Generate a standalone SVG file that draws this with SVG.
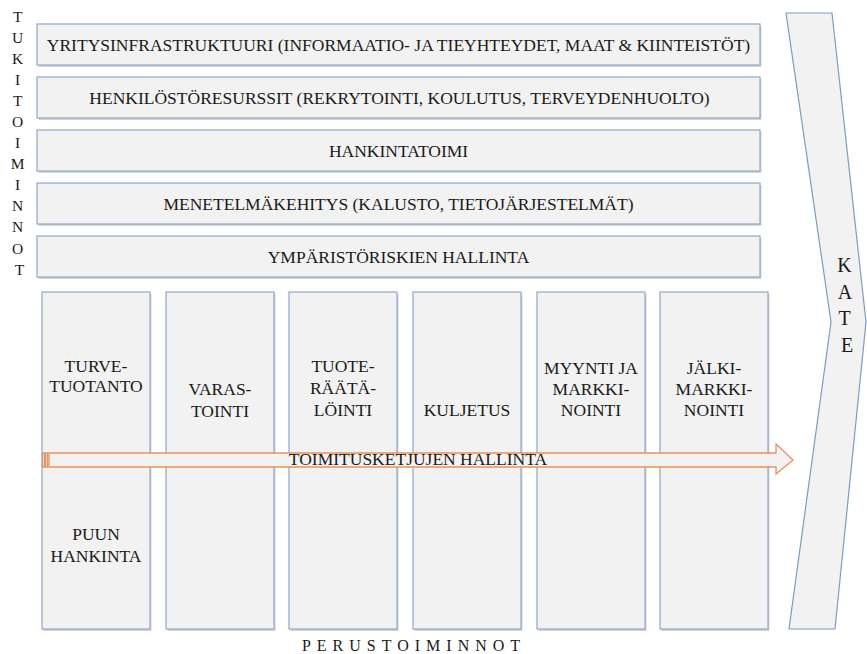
<svg xmlns="http://www.w3.org/2000/svg" width="867" height="654" viewBox="0 0 867 654">
  <style>
    .box { fill: #F2F2F2; stroke: #8DA7CB; stroke-width: 1.2; }
    .shadow { fill: #D4D4D4; }
    .t { font-family: 'Liberation Serif', 'Times New Roman', serif; fill: #1A1A1A; text-anchor: middle; }
    .lbl { font-size: 17.5px; }
    .side { font-size: 15.5px; }
    .kate { font-size: 20px; }
    .spaced { font-size: 16px; letter-spacing: 6px; }
  </style>
  <rect width="867" height="654" fill="#FFFFFF"/>

  <!-- Support activities (vertical label) -->
  <g id="label-tukitoiminnot">
    <text class="t side">
      <tspan x="19.5" y="22">T</tspan>
      <tspan x="19.5" y="43">U</tspan>
      <tspan x="19.5" y="64">K</tspan>
      <tspan x="19.5" y="85">I</tspan>
      <tspan x="19.5" y="106">T</tspan>
      <tspan x="19.5" y="127">O</tspan>
      <tspan x="19.5" y="148">I</tspan>
      <tspan x="19.5" y="169">M</tspan>
      <tspan x="19.5" y="190">I</tspan>
      <tspan x="19.5" y="211">N</tspan>
      <tspan x="19.5" y="232">N</tspan>
      <tspan x="19.5" y="254">O</tspan>
      <tspan x="19.5" y="275">T</tspan>
    </text>
  </g>

  <!-- Margin chevron -->
  <g id="kate">
    <polygon points="786,13 832,13 866,322 835,629 789,629 831,322" fill="#F2F2F2" stroke="#7D9BC4" stroke-width="1.2"/>
    <text class="t kate">
      <tspan x="847" y="272">K</tspan>
      <tspan x="847" y="299">A</tspan>
      <tspan x="847" y="325">T</tspan>
      <tspan x="847" y="352">E</tspan>
    </text>
  </g>

  <!-- Support activity bars -->
  <g id="bar-yritysinfrastruktuuri">
    <rect class="shadow" x="38.5" y="26" width="723" height="41"/>
    <rect class="box" x="37" y="24" width="723" height="41"/>
    <text class="t lbl" x="398.5" y="50.5">YRITYSINFRASTRUKTUURI (INFORMAATIO- JA TIEYHTEYDET, MAAT &amp; KIINTEISTÖT)</text>
  </g>
  <g id="bar-henkilostoresurssit">
    <rect class="shadow" x="38.5" y="79" width="723" height="41"/>
    <rect class="box" x="37" y="77" width="723" height="41"/>
    <text class="t lbl" x="399.5" y="103.5">HENKILÖSTÖRESURSSIT (REKRYTOINTI, KOULUTUS, TERVEYDENHUOLTO)</text>
  </g>
  <g id="bar-hankintatoimi">
    <rect class="shadow" x="38.5" y="132" width="723" height="41"/>
    <rect class="box" x="37" y="130" width="723" height="41"/>
    <text class="t lbl" x="398.5" y="156.5">HANKINTATOIMI</text>
  </g>
  <g id="bar-menetelmakehitys">
    <rect class="shadow" x="38.5" y="185" width="723" height="41"/>
    <rect class="box" x="37" y="183" width="723" height="41"/>
    <text class="t lbl" x="398.5" y="209.5">MENETELMÄKEHITYS (KALUSTO, TIETOJÄRJESTELMÄT)</text>
  </g>
  <g id="bar-ymparistoriskit">
    <rect class="shadow" x="38.5" y="238" width="723" height="41"/>
    <rect class="box" x="37" y="236" width="723" height="41"/>
    <text class="t lbl" x="398.5" y="262.5">YMPÄRISTÖRISKIEN HALLINTA</text>
  </g>

  <!-- Primary activity columns -->
  <g id="col-turvetuotanto">
    <rect class="shadow" x="43.5" y="294" width="108" height="337"/>
    <rect class="box" x="42" y="292" width="108" height="337"/>
    <text class="t lbl"><tspan x="96" y="372">TURVE-</tspan><tspan x="96" y="392">TUOTANTO</tspan></text>
    <text class="t lbl"><tspan x="96" y="540">PUUN</tspan><tspan x="96" y="562">HANKINTA</tspan></text>
  </g>
  <g id="col-varastointi">
    <rect class="shadow" x="167.5" y="294" width="108" height="337"/>
    <rect class="box" x="166" y="292" width="108" height="337"/>
    <text class="t lbl"><tspan x="220" y="395">VARAS-</tspan><tspan x="220" y="417">TOINTI</tspan></text>
  </g>
  <g id="col-tuoteraatalointi">
    <rect class="shadow" x="290.5" y="294" width="108" height="337"/>
    <rect class="box" x="289" y="292" width="108" height="337"/>
    <text class="t lbl"><tspan x="343" y="372">TUOTE-</tspan><tspan x="343" y="394">RÄÄTÄ-</tspan><tspan x="343" y="416">LÖINTI</tspan></text>
  </g>
  <g id="col-kuljetus">
    <rect class="shadow" x="414.5" y="294" width="108" height="337"/>
    <rect class="box" x="413" y="292" width="108" height="337"/>
    <text class="t lbl"><tspan x="467" y="416">KULJETUS</tspan></text>
  </g>
  <g id="col-myynti">
    <rect class="shadow" x="538.5" y="294" width="108" height="337"/>
    <rect class="box" x="537" y="292" width="108" height="337"/>
    <text class="t lbl"><tspan x="591" y="374">MYYNTI JA</tspan><tspan x="591" y="395">MARKKI-</tspan><tspan x="591" y="416">NOINTI</tspan></text>
  </g>
  <g id="col-jalkimarkkinointi">
    <rect class="shadow" x="661.5" y="294" width="108" height="337"/>
    <rect class="box" x="660" y="292" width="108" height="337"/>
    <text class="t lbl"><tspan x="714" y="374">JÄLKI-</tspan><tspan x="714" y="395">MARKKI-</tspan><tspan x="714" y="416">NOINTI</tspan></text>
  </g>

  <!-- Supply chain arrow across the columns -->
  <g id="connectors">
    <g id="arrow-toimitusketjut" fill="#F2F2F2" stroke="#E8925A" stroke-width="1.3">
      <rect x="42.5" y="453" width="2" height="14"/>
      <rect x="45.5" y="453" width="2" height="14"/>
      <polygon points="49,453 776,453 776,444 793,460 776,474 776,467 49,467"/>
    </g>
    <text class="t lbl" x="418" y="465">TOIMITUSKETJUJEN HALLINTA</text>
  </g>

  <g id="label-perustoiminnot">
    <text class="t spaced" x="414" y="651">PERUSTOIMINNOT</text>
  </g>
</svg>
